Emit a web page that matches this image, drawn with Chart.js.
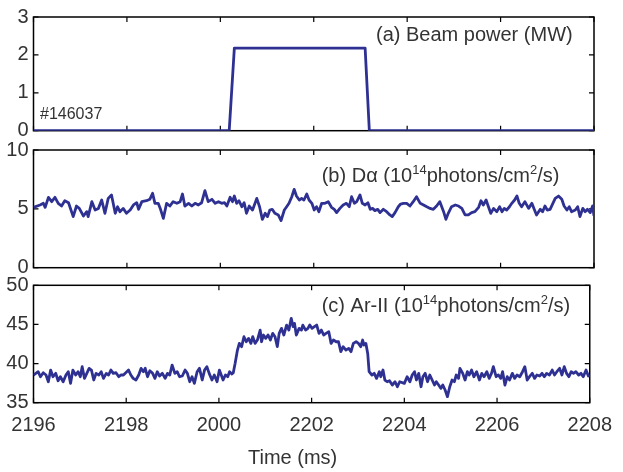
<!DOCTYPE html>
<html>
<head>
<meta charset="utf-8">
<script src="https://cdn.jsdelivr.net/npm/chart.js@4"></script>
<style>
  html, body { margin: 0; padding: 0; background: #fff; }
  #wrap { position: relative; width: 623px; height: 472px; }
  canvas { position: absolute; left: 0; top: 0; }
</style>
</head>
<body>
<div id="wrap">
  <canvas id="cA" width="623" height="472"></canvas>
  <canvas id="cB" width="623" height="472"></canvas>
  <canvas id="cC" width="623" height="472"></canvas>
</div>
<script>
// ---------------- DATA ----------------
const xTickValues = [2196, 2198, 2200, 2202, 2204, 2206, 2208];
const xTickLabels = ['2196', '2198', '2000', '2202', '2204', '2206', '2208'];
const yTicksA = [0, 1, 2, 3];
const yTicksB = [0, 5, 10];
const yTicksC = [35, 40, 45, 50];

const beamT = [2196, 2200.19, 2200.30, 2203.10, 2203.19, 2208];
const beamP = [0, 0, 2.18, 2.18, 0, 0];

const dalphaT = [
  2196.00, 2196.14, 2196.21, 2196.25, 2196.32, 2196.39, 2196.46, 2196.53, 2196.60, 2196.67,
  2196.75, 2196.85, 2196.92, 2196.98, 2197.07, 2197.14, 2197.17, 2197.25, 2197.32, 2197.39,
  2197.46, 2197.53, 2197.60, 2197.67, 2197.75, 2197.80, 2197.85, 2197.92, 2197.99, 2198.07,
  2198.14, 2198.21, 2198.25, 2198.32, 2198.42, 2198.49, 2198.55, 2198.60, 2198.67, 2198.72,
  2198.78, 2198.85, 2198.92, 2198.99, 2199.07, 2199.14, 2199.19, 2199.24, 2199.32, 2199.39,
  2199.46, 2199.53, 2199.60, 2199.67, 2199.74, 2199.82, 2199.89, 2199.96, 2200.03,
  2200.09, 2200.14, 2200.21, 2200.26, 2200.30, 2200.35, 2200.40, 2200.46, 2200.51, 2200.56,
  2200.62, 2200.69, 2200.78, 2200.84, 2200.90, 2200.96, 2201.01, 2201.06, 2201.11, 2201.17,
  2201.24, 2201.30, 2201.37, 2201.42, 2201.47, 2201.53, 2201.58, 2201.63, 2201.69, 2201.74,
  2201.79, 2201.85, 2201.90, 2201.96, 2202.01, 2202.06, 2202.11, 2202.17, 2202.24, 2202.31,
  2202.38, 2202.44, 2202.49, 2202.56, 2202.63, 2202.70, 2202.76, 2202.81, 2202.87, 2202.92,
  2202.99, 2203.04, 2203.10, 2203.16, 2203.21, 2203.26, 2203.31, 2203.37, 2203.42, 2203.49,
  2203.56, 2203.63, 2203.68, 2203.74, 2203.81, 2203.86, 2203.92,
  2203.99, 2204.06, 2204.13, 2204.20, 2204.28, 2204.35, 2204.42, 2204.49, 2204.56, 2204.63,
  2204.70, 2204.78, 2204.83, 2204.88, 2204.95, 2205.03, 2205.10, 2205.17, 2205.24, 2205.31,
  2205.38, 2205.45, 2205.53, 2205.58, 2205.63, 2205.69, 2205.74, 2205.79, 2205.85, 2205.92,
  2205.98, 2206.03, 2206.08, 2206.13, 2206.19, 2206.24, 2206.30, 2206.35, 2206.40, 2206.45,
  2206.52, 2206.60, 2206.67, 2206.72, 2206.77, 2206.85, 2206.90, 2206.95, 2207.00, 2207.06,
  2207.12, 2207.17, 2207.24, 2207.31, 2207.36, 2207.42, 2207.47, 2207.52, 2207.60, 2207.65,
  2207.70, 2207.76, 2207.81, 2207.86, 2207.92, 2207.97, 2208.00
];
const dalphaV = [
  5.13, 5.33, 5.47, 5.13, 5.98, 5.61, 5.98, 5.47, 5.24, 5.69,
  5.52, 4.34, 5.24, 5.04, 4.39, 4.76, 4.34, 5.61, 4.90, 5.04,
  5.75, 4.62, 5.89, 6.18, 4.62, 5.18, 4.76, 5.04, 4.62, 4.90,
  5.33, 5.52, 4.96, 5.61, 5.69, 5.81, 6.32, 5.47, 5.47, 4.96,
  4.19, 5.47, 5.24, 5.61, 5.47, 5.61, 6.26, 5.24, 5.47, 5.24,
  5.47, 5.33, 5.52, 6.54, 5.61, 5.81, 5.47, 5.61, 5.47,
  5.52, 5.24, 5.98, 5.61, 6.09, 5.47, 5.69, 5.18, 5.52, 4.62,
  5.24, 4.90, 5.89, 5.18, 4.11, 4.62, 4.34, 4.90, 4.96, 4.62,
  4.48, 4.00, 4.90, 5.18, 5.47, 6.03, 6.66, 6.09, 5.75, 5.89,
  5.75, 6.26, 5.75, 5.47, 4.90, 5.18, 4.76, 5.47, 5.47, 5.61,
  5.13, 4.96, 4.68, 5.04, 5.33, 5.47, 5.18, 6.03, 5.47, 5.61,
  6.18, 5.47, 5.33, 5.52, 4.96, 5.04, 4.85, 4.96, 4.68, 4.96,
  4.76, 4.48, 4.34, 4.68, 5.18, 5.41, 5.47,
  5.47, 5.24, 5.61, 6.03, 5.47, 5.33, 5.18, 5.04, 4.96, 5.24,
  5.61, 4.76, 4.11, 4.62, 5.18, 5.33, 5.24, 5.04, 4.48, 4.48,
  4.68, 4.76, 5.13, 5.69, 5.33, 5.75, 5.18, 4.62, 5.04, 4.76,
  5.18, 4.76, 5.04, 4.90, 5.18, 5.47, 5.75, 6.09, 5.47, 5.18,
  5.61, 5.04, 5.47, 4.96, 4.48, 4.96, 4.76, 5.24, 4.90, 4.96,
  5.47, 5.89, 6.09, 5.81, 5.24, 4.90, 5.18, 4.76, 4.90, 5.18,
  4.34, 5.04, 4.76, 4.96, 4.68, 5.24, 4.40
];

const arT = [
  2196.00, 2196.10, 2196.15, 2196.21, 2196.27, 2196.32, 2196.37, 2196.42, 2196.48, 2196.53,
  2196.58, 2196.64, 2196.70, 2196.75, 2196.80, 2196.85, 2196.91, 2196.96, 2197.01, 2197.05,
  2197.10, 2197.15, 2197.20, 2197.25, 2197.30, 2197.35, 2197.41, 2197.46, 2197.51, 2197.57,
  2197.62, 2197.67, 2197.72, 2197.78, 2197.84, 2197.89, 2197.94, 2197.99, 2198.05, 2198.10,
  2198.15, 2198.21, 2198.27, 2198.32, 2198.37, 2198.41, 2198.46, 2198.51, 2198.57, 2198.62,
  2198.67, 2198.72, 2198.78, 2198.84, 2198.89, 2198.94, 2198.99, 2199.05, 2199.10, 2199.15,
  2199.21, 2199.27, 2199.32, 2199.37, 2199.42, 2199.47, 2199.53, 2199.58, 2199.64, 2199.69,
  2199.74, 2199.79, 2199.85, 2199.90, 2199.96, 2200.01,
  2200.09, 2200.14, 2200.19, 2200.23, 2200.28, 2200.31, 2200.35, 2200.40, 2200.44, 2200.49,
  2200.54, 2200.59, 2200.64, 2200.69, 2200.73, 2200.78, 2200.83, 2200.89, 2200.92, 2200.96,
  2201.01, 2201.06, 2201.11, 2201.16, 2201.21, 2201.26, 2201.30, 2201.35, 2201.40, 2201.46,
  2201.51, 2201.56, 2201.60, 2201.63, 2201.67, 2201.73, 2201.78, 2201.81, 2201.87, 2201.92,
  2201.96, 2202.01, 2202.06, 2202.11, 2202.16, 2202.21, 2202.26, 2202.31, 2202.37, 2202.42,
  2202.47, 2202.53, 2202.58, 2202.63, 2202.68, 2202.74, 2202.80, 2202.85, 2202.90, 2202.96,
  2203.01, 2203.06, 2203.10, 2203.13, 2203.17, 2203.21, 2203.24, 2203.30, 2203.35, 2203.40,
  2203.46, 2203.49, 2203.54, 2203.58, 2203.63, 2203.68, 2203.74, 2203.80, 2203.85, 2203.90,
  2204.00, 2204.06, 2204.12, 2204.17, 2204.22, 2204.26, 2204.31, 2204.36, 2204.40, 2204.45,
  2204.50, 2204.55, 2204.60, 2204.65, 2204.69, 2204.74, 2204.79, 2204.83, 2204.88, 2204.93,
  2204.98, 2205.03, 2205.08, 2205.12, 2205.17, 2205.20, 2205.26, 2205.31, 2205.36, 2205.40,
  2205.45, 2205.50, 2205.56, 2205.62, 2205.67, 2205.72, 2205.78, 2205.83, 2205.88, 2205.92,
  2205.98, 2206.03, 2206.08, 2206.12, 2206.17, 2206.22, 2206.27, 2206.33, 2206.38, 2206.43,
  2206.49, 2206.55, 2206.60, 2206.65, 2206.70, 2206.76, 2206.81, 2206.86, 2206.92, 2206.97,
  2207.02, 2207.07, 2207.13, 2207.19, 2207.24, 2207.29, 2207.35, 2207.40, 2207.45, 2207.50,
  2207.55, 2207.60, 2207.65, 2207.70, 2207.76, 2207.81, 2207.86, 2207.92, 2207.97, 2208.00
];
const arV = [
  38.54, 38.96, 38.32, 38.83, 38.54, 37.68, 39.17, 38.32, 38.75, 37.81,
  38.32, 37.68, 38.54, 38.96, 37.47, 39.17, 38.54, 38.96, 38.32, 39.60,
  38.11, 38.75, 39.39, 39.17, 37.90, 38.75, 38.54, 38.96, 38.11, 38.75,
  38.54, 39.17, 38.75, 38.83, 38.32, 38.54, 38.54, 38.83, 39.17, 38.54,
  38.11, 37.90, 38.54, 39.39, 38.96, 39.39, 38.32, 39.09, 38.75, 38.11,
  38.96, 38.41, 38.75, 38.11, 38.75, 38.54, 39.81, 38.75, 38.96, 38.32,
  38.41, 39.17, 38.75, 37.68, 38.32, 37.47, 38.96, 39.39, 37.90, 39.17,
  39.60, 38.75, 37.90, 38.54, 37.68, 39.17,
  37.90, 38.54, 38.32, 38.96, 38.66, 38.83, 40.03, 41.73, 42.58, 42.16,
  43.43, 42.79, 43.22, 42.58, 43.43, 42.58, 43.01, 44.28, 42.79, 43.65,
  43.22, 43.65, 43.01, 43.86, 43.43, 42.16, 43.86, 44.50, 43.65, 44.92,
  44.28, 45.78, 44.71, 45.14, 43.65, 44.50, 44.28, 44.92, 44.28, 44.50,
  44.92, 44.50, 44.71, 44.92, 43.86, 44.28, 43.65, 43.86, 44.07, 42.58,
  43.01, 42.79, 42.79, 41.52, 42.16, 41.73, 41.94, 41.52, 42.58, 42.79,
  42.58, 42.16, 43.01, 42.37, 42.58, 41.30, 38.96, 38.54, 38.75, 38.11,
  38.96, 38.32, 39.17, 37.90, 37.68, 37.81, 37.26, 37.68, 37.04, 37.68,
  37.47, 38.32, 37.68, 38.54, 38.96, 37.90, 38.75, 37.04, 38.32, 38.75,
  37.68, 38.54, 37.90, 37.26, 37.68, 37.26, 36.83, 37.26, 36.62, 35.77,
  37.04, 37.90, 37.68, 38.54, 38.11, 39.39, 38.75, 37.90, 38.96, 38.54,
  39.17, 38.32, 38.96, 37.90, 38.75, 38.32, 38.96, 38.11, 38.75, 39.60,
  38.32, 38.54, 38.11, 38.96, 37.26, 38.32, 37.90, 38.75, 38.11, 38.54,
  38.32, 38.96, 39.60, 37.90, 38.32, 38.75, 38.11, 38.54, 38.41, 38.75,
  38.32, 38.75, 38.54, 39.17, 38.54, 38.96, 39.39, 38.54, 39.60, 38.75,
  38.32, 38.96, 38.75, 38.96, 38.54, 38.75, 38.32, 39.17, 38.41, 38.54
];

// ---------------- STYLE / LAYOUT ----------------
const FONT = '"Liberation Sans", Arial, Helvetica, sans-serif';
const BLUE = '#2e3192';
const TXT = '#333333';
Chart.defaults.font.family = FONT;

function pts(ts, vs) { return ts.map((t, i) => ({ x: t, y: vs[i] })); }

function drawRich(ctx, x, y, parts) {
  let cx = x;
  parts.forEach(p => {
    const size = p.sup ? 13 : (p.small ? 16 : 20);
    ctx.font = size + 'px ' + FONT;
    ctx.fillText(p.t, cx, p.sup ? y - 8 : y);
    cx += ctx.measureText(p.t).width;
  });
}

const framePlugin = {
  id: 'frame',
  beforeDatasetsDraw(chart) {
    const { ctx, chartArea: { left, right, top, bottom } } = chart;
    const xs = chart.scales.x, ys = chart.scales.y;
    ctx.save();
    ctx.strokeStyle = '#000';
    ctx.lineWidth = 1.5;
    ctx.strokeRect(left, top, right - left, bottom - top);
    ctx.lineWidth = 1.2;
    ctx.beginPath();
    xTickValues.forEach(v => {
      const px = xs.getPixelForValue(v);
      ctx.moveTo(px, bottom); ctx.lineTo(px, bottom - 5);
      ctx.moveTo(px, top); ctx.lineTo(px, top + 5);
    });
    chart.options.yTickVals.forEach(v => {
      const py = ys.getPixelForValue(v);
      ctx.moveTo(left, py); ctx.lineTo(left + 5, py);
      ctx.moveTo(right, py); ctx.lineTo(right - 5, py);
    });
    ctx.stroke();
    ctx.restore();
  },
  afterDraw(chart) {
    const ctx = chart.ctx;
    ctx.save();
    ctx.fillStyle = TXT;
    ctx.textBaseline = 'alphabetic';
    ctx.textAlign = 'left';
    chart.options.notes.forEach(n => drawRich(ctx, n.x, n.y, n.parts));
    ctx.restore();
  }
};

function makeChart(id, ts, vs, yTicks, padTop, padBottom, showX, notes) {
  const yMin = yTicks[0], yMax = yTicks[yTicks.length - 1];
  return new Chart(document.getElementById(id), {
    type: 'line',
    data: { datasets: [{ data: pts(ts, vs), borderColor: BLUE, borderWidth: 2.8,
      pointRadius: 0, tension: 0, fill: false, borderJoinStyle: 'round' }] },
    options: {
      responsive: false, animation: false, devicePixelRatio: 1,
      yTickVals: yTicks, notes: notes,
      layout: { padding: { left: 0, right: 29, top: padTop, bottom: padBottom } },
      plugins: { legend: { display: false }, tooltip: { enabled: false } },
      scales: {
        x: {
          type: 'linear', min: 2196, max: 2208, display: showX,
          afterBuildTicks: s => { s.ticks = xTickValues.map(v => ({ value: v })); },
          afterFit: s => { if (showX) s.height = 69.3; },
          grid: { display: false, drawTicks: false },
          border: { display: false },
          ticks: { autoSkip: false, maxRotation: 0, padding: 11, color: TXT,
            font: { size: 20, family: FONT },
            callback: (v) => { const i = xTickValues.indexOf(v); return i >= 0 ? xTickLabels[i] : ''; } }
        },
        y: {
          type: 'linear', min: yMin, max: yMax,
          afterBuildTicks: s => { s.ticks = yTicks.map(v => ({ value: v })); },
          afterFit: s => { s.width = 33.5; },
          grid: { display: false, drawTicks: false },
          border: { display: false },
          ticks: { padding: 5, color: TXT, font: { size: 20, family: FONT } }
        }
      }
    },
    plugins: [framePlugin]
  });
}

makeChart('cA', beamT, beamP, yTicksA, 14.3, 341.3, false, [
  { x: 376, y: 40.5, parts: [{ t: '(a) Beam power (MW)' }] },
  { x: 40, y: 119.3, parts: [{ t: '#146037', small: true }] }
]);
makeChart('cB', dalphaT, dalphaV, yTicksB, 150, 204.3, false, [
  { x: 321.7, y: 181.7, parts: [{ t: '(b) Dα (10' }, { t: '14', sup: true }, { t: 'photons/cm' }, { t: '2', sup: true }, { t: '/s)' }] }
]);
makeChart('cC', arT, arV, yTicksC, 285.3, 0, true, [
  { x: 321.7, y: 311.5, parts: [{ t: '(c) Ar-II (10' }, { t: '14', sup: true }, { t: 'photons/cm' }, { t: '2', sup: true }, { t: '/s)' }] },
  { x: 248, y: 463.5, parts: [{ t: 'Time (ms)' }] }
]);
</script>
</body>
</html>
